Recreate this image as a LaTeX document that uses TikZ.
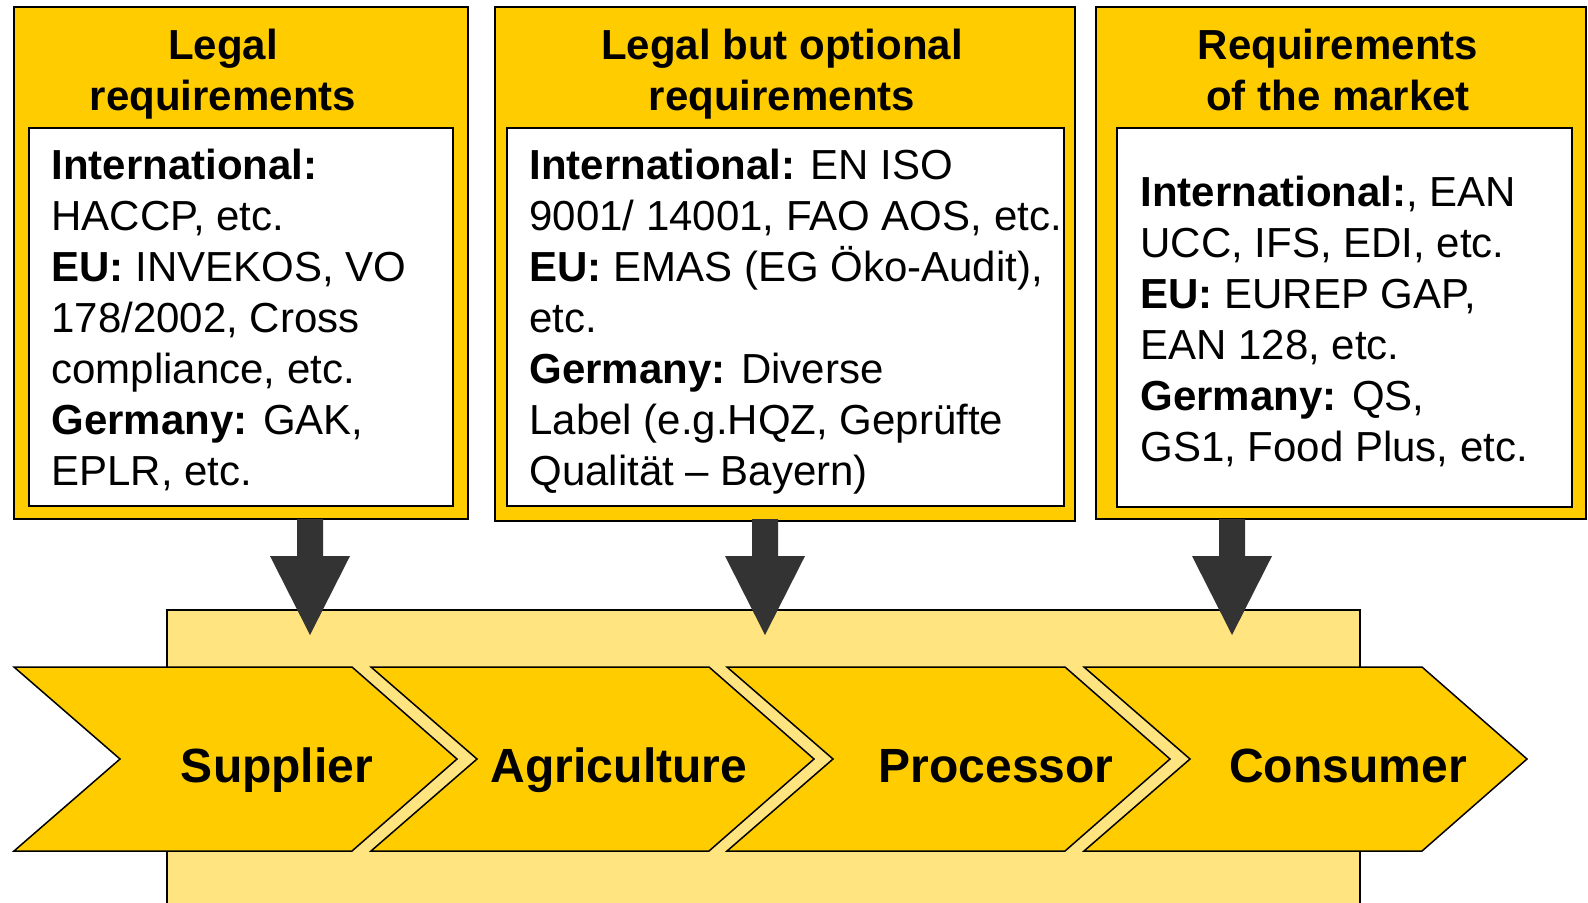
\documentclass[tikz,border=0pt]{standalone}
\usepackage{fontspec}
\setmainfont{Liberation Sans}
\usetikzlibrary{calc}
\definecolor{gold}{HTML}{FFCC00}
\definecolor{pale}{HTML}{FFE480}
\definecolor{darkarrow}{HTML}{333333}
\begin{document}
\begin{tikzpicture}[x=0.5pt,y=-0.5pt,
  outerbox/.style={draw=black,line width=1pt,fill=gold},
  innerbox/.style={draw=black,line width=1pt,fill=white},
  titletext/.style={font=\fontsize{21}{25.5}\selectfont\bfseries,align=center,inner sep=0pt,anchor=base},
  bodytext/.style={font=\fontsize{21}{25.5}\selectfont,align=left,inner sep=0pt,anchor=base west},
  chev/.style={draw=black,line width=0.75pt,fill=gold,line join=miter},
  chevtext/.style={font=\fontsize{24}{28}\selectfont\bfseries,inner sep=0pt,anchor=base},
  blockarrow/.style={fill=darkarrow,draw=none}]
\useasboundingbox (0,0) rectangle (1588,902);
% pale background band
\fill[pale] (167,610) rectangle (1360,910);
\draw[line width=0.75pt] (167,910) -- (167,610) -- (1360,610) -- (1360,910);
% requirement boxes
\draw[outerbox] (14,7) rectangle (468,519);
\draw[innerbox] (29,128) rectangle (453,506);
\draw[outerbox] (495,7) rectangle (1075,521);
\draw[innerbox] (507,128) rectangle (1064,506);
\draw[outerbox] (1096,7) rectangle (1586,519);
\draw[innerbox] (1117,128) rectangle (1572,507);
% titles (anchored at the baseline of their last line)
\node[titletext] (t1) at (223,110) {Legal\\requirements};
\node[titletext] (t2) at (782,110) {Legal but optional\\requirements};
\node[titletext] (t3) at (1338,110) {Requirements\\of the market};
% bodies (anchored at the baseline of their last line)
\node[bodytext] (b1) at (51,485) {\textbf{International:}\\HACCP, etc.\\\textbf{EU:} INVEKOS, VO\\178/2002, Cross\\compliance, etc.\\\textbf{Germany:} GAK,\\EPLR, etc.};
\node[bodytext] (b2) at (529,485) {\textbf{International:} EN ISO\\9001/ 14001, FAO AOS, etc.\\\textbf{EU:} EMAS (EG Öko-Audit),\\etc.\\\textbf{Germany:} Diverse\\Label (e.g.HQZ, Geprüfte\\Qualität – Bayern)};
\node[bodytext] (b3) at (1140,461) {\textbf{International:}, EAN\\UCC, IFS, EDI, etc.\\\textbf{EU:} EUREP GAP,\\EAN 128, etc.\\\textbf{Germany:} QS,\\GS1, Food Plus, etc.};
% block arrows
\coordinate (a1) at (310,519);
\coordinate (a2) at (765,519);
\coordinate (a3) at (1232,519);
\foreach \a in {a1,a2,a3}{
  \fill[blockarrow] ($(\a)+(-13,0)$) -- ($(\a)+(13,0)$) -- ($(\a)+(13,37)$) -- ($(\a)+(40,37)$) -- ($(\a)+(0,116)$) -- ($(\a)+(-40,37)$) -- ($(\a)+(-13,37)$) -- cycle;
}
% chevrons
\foreach \x/\lab/\cx/\nm in {14/Supplier/277/c1, 371/Agriculture/619/c2, 727/Processor/996/c3, 1084/Consumer/1348/c4}{
  \draw[chev] (\x,667) -- ({\x+338},667) -- ({\x+443},759) -- ({\x+338},851) -- (\x,851) -- ({\x+106},759) -- cycle;
  \node[chevtext] (\nm) at (\cx,782) {\lab};
}
\end{tikzpicture}
\end{document}
